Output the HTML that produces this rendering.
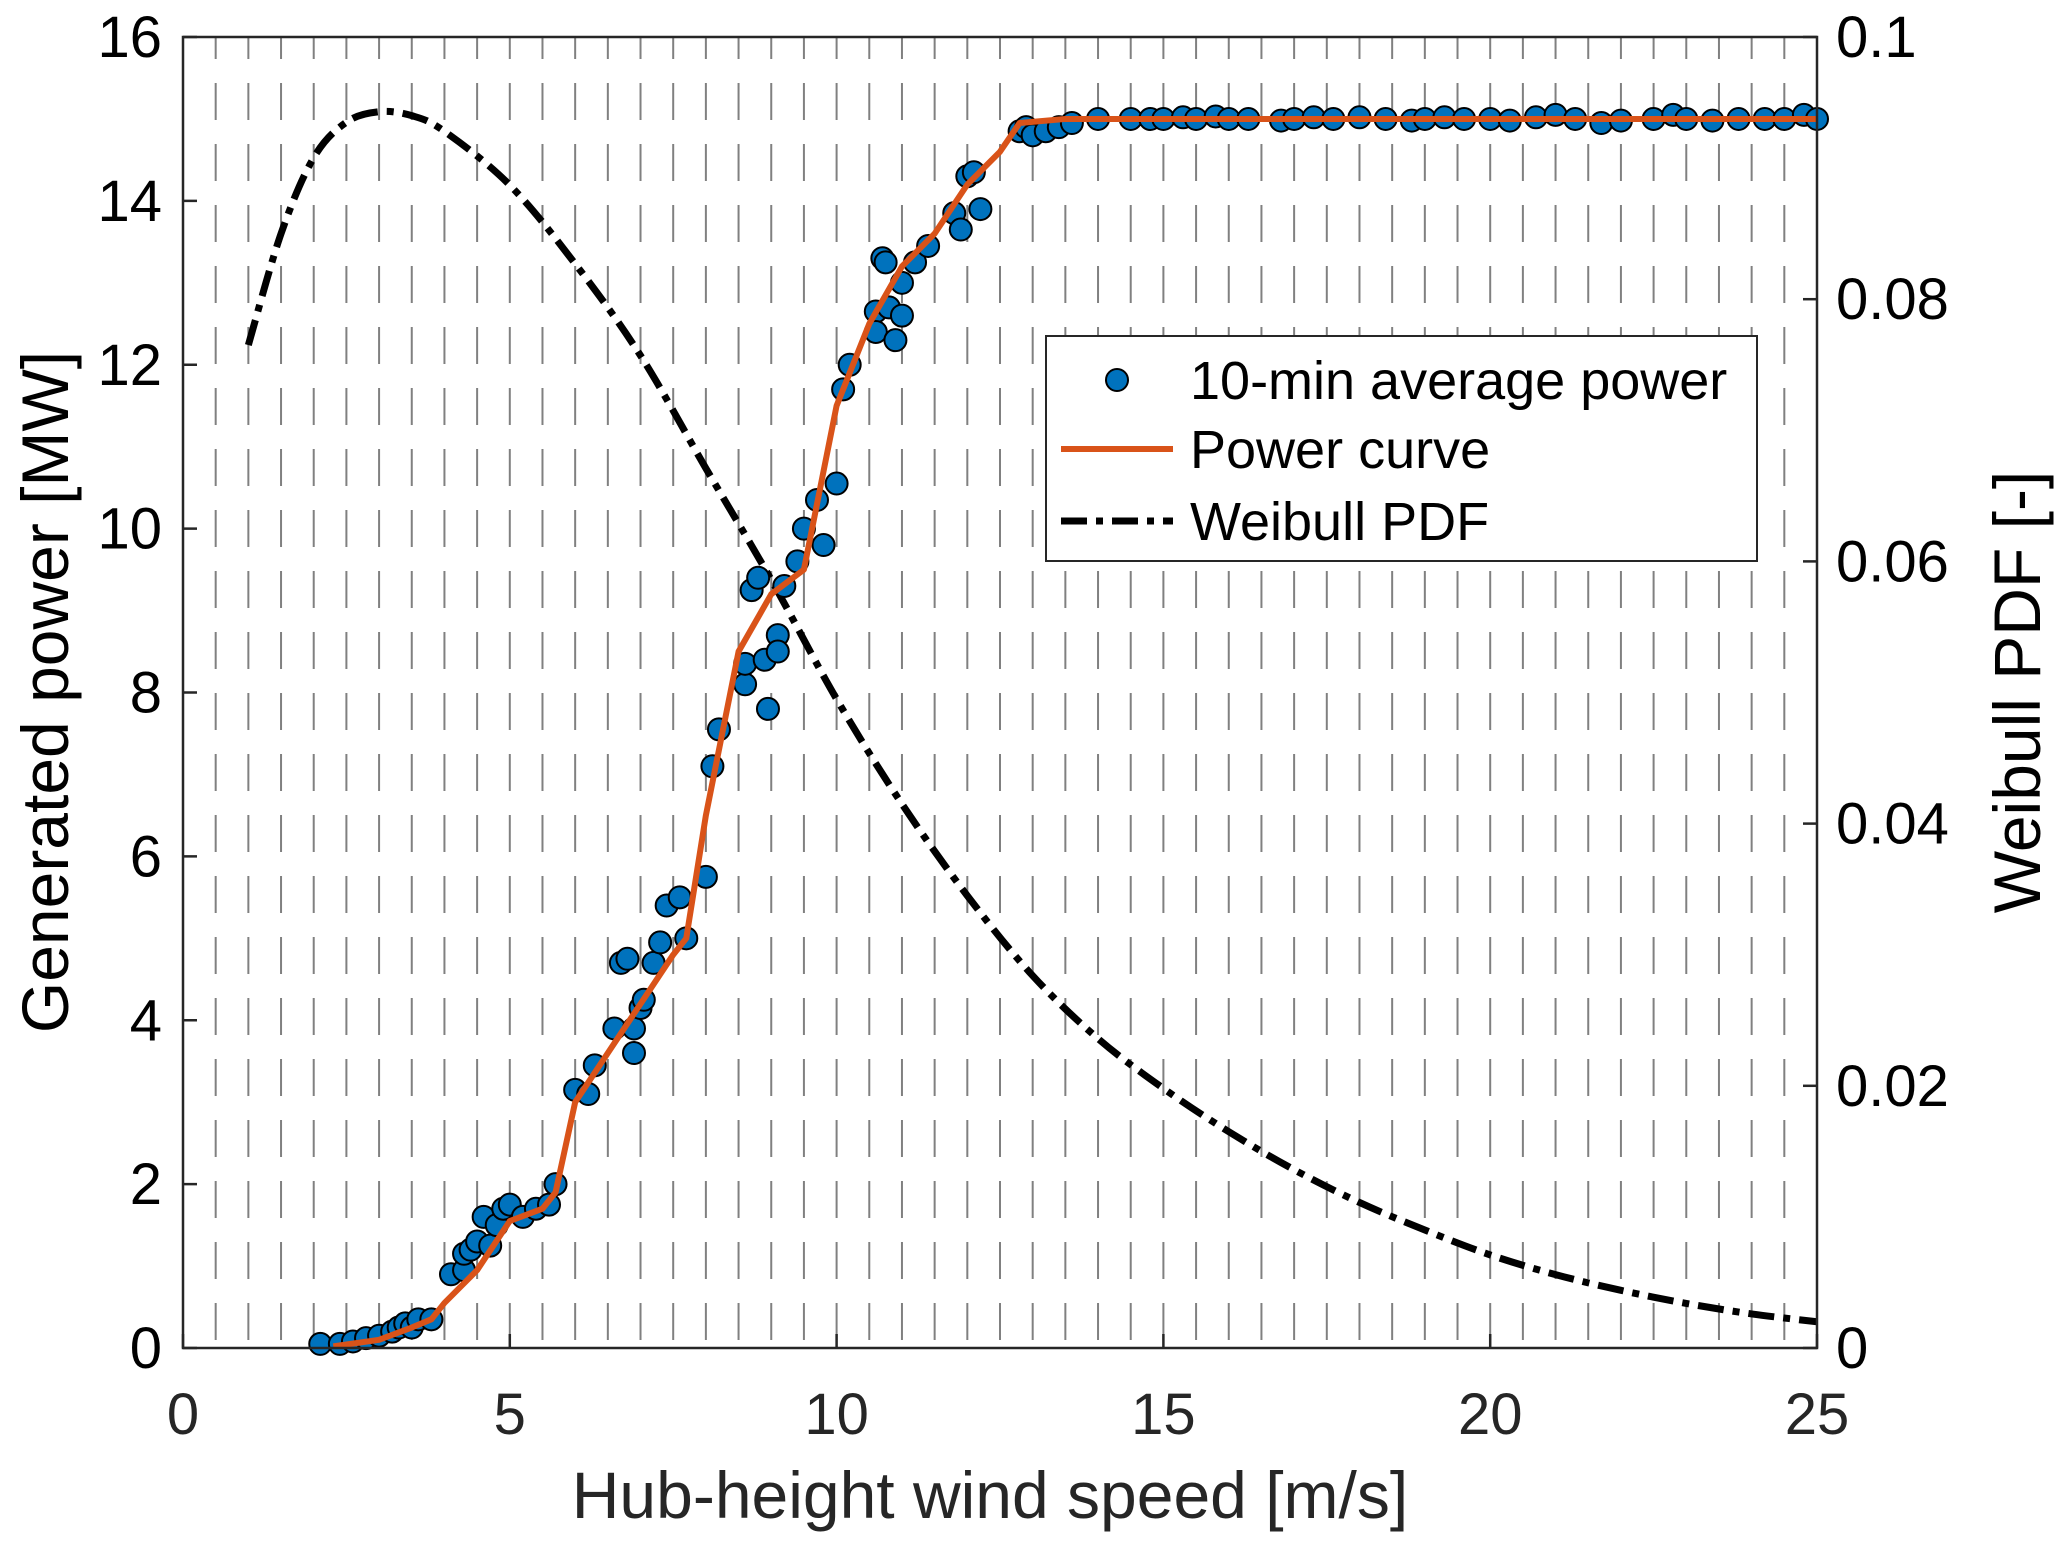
<!DOCTYPE html>
<html><head><meta charset="utf-8"><style>
body{margin:0;background:#fff}
svg{display:block;font-family:"Liberation Sans",Arial,sans-serif}
</style></head><body>
<svg id="chart" width="2067" height="1547" viewBox="0 0 2067 1547" xmlns="http://www.w3.org/2000/svg">
<rect width="2067" height="1547" fill="#fff"/>
<g id="grid"></g>
<g id="weib"></g>
<g id="pts"></g>
<g id="curve"></g>
<g id="axes"></g>
<g>
<rect x="1046" y="336" width="711" height="225" fill="#fff" stroke="#262626" stroke-width="2"/>
<circle cx="1117" cy="380" r="11" fill="#0072BD" stroke="#000" stroke-width="2"/>
<text x="1190" y="399" font-size="54" fill="#000">10-min average power</text>
<line x1="1061" y1="449" x2="1173" y2="449" stroke="#D95319" stroke-width="6"/>
<text x="1190" y="468" font-size="54" fill="#000">Power curve</text>
<line x1="1061" y1="521" x2="1173" y2="521" stroke="#000" stroke-width="7" stroke-dasharray="26 9 7 9"/>
<text x="1190" y="540" font-size="54" fill="#000">Weibull PDF</text>
</g>
<text x="990" y="1518" font-size="66" fill="#262626" text-anchor="middle">Hub-height wind speed [m/s]</text>
<text transform="translate(68,692) rotate(-90)" font-size="66" fill="#000" text-anchor="middle">Generated power [MW]</text>
<text transform="translate(2040,692) rotate(-90)" font-size="66" fill="#000" text-anchor="middle">Weibull PDF [-]</text>
</svg>
<script>
const xTicks=[0,5,10,15,20,25];
const yTicks=[0,2,4,6,8,10,12,14,16];
const y2Ticks=[0,0.02,0.04,0.06,0.08,0.1];
const y2Labels=["0","0.02","0.04","0.06","0.08","0.1"];
const weibX=[1,1.5,2,2.5,3,3.5,4,5,6,7,8,9,10,11,12,13,14,15,16,17,18,19,20,21,22,23,24,25];
const weibY=[0.0765,0.085,0.0908,0.0935,0.0943,0.094,0.0928,0.0887,0.0827,0.0757,0.0671,0.0586,0.0495,0.0415,0.0345,0.0284,0.0236,0.0198,0.0165,0.0136,0.0111,0.0090,0.0071,0.0056,0.0044,0.0034,0.0026,0.0020];
const curveX=[2.3,3,3.5,3.8,4,4.5,5,5.5,5.7,6,6.5,7,7.5,7.7,8,8.5,9,9.5,10,10.5,11,11.5,12,12.5,12.8,13.5,25];
const curveY=[0.02,0.1,0.25,0.35,0.55,0.95,1.55,1.7,1.9,3.0,3.6,4.2,4.8,5.0,6.5,8.5,9.2,9.5,11.5,12.5,13.2,13.6,14.2,14.6,14.95,15,15];
const ptX=[2.1,2.4,2.6,2.8,3.0,3.2,3.3,3.4,3.5,3.6,3.8,4.1,4.3,4.3,4.4,4.5,4.6,4.7,4.8,4.9,5.0,5.2,5.4,5.6,5.7,6.0,6.2,6.3,6.6,6.7,6.8,6.9,6.9,7.0,7.05,7.2,7.3,7.4,7.6,7.7,8.0,8.1,8.2,8.6,8.6,8.7,8.8,8.9,8.95,9.1,9.1,9.2,9.4,9.5,9.7,9.8,10.0,10.1,10.2,10.6,10.6,10.7,10.75,10.8,10.9,11.0,11.0,11.2,11.4,11.8,11.9,12.0,12.1,12.2,12.8,12.9,13.0,13.2,13.4,13.6,14.0,14.5,14.8,15.0,15.3,15.5,15.8,16,16.3,16.8,17,17.3,17.6,18,18.4,18.8,19,19.3,19.6,20,20.3,20.7,21,21.3,21.7,22,22.5,22.8,23,23.4,23.8,24.2,24.5,24.8,25];
const ptY=[0.05,0.05,0.08,0.12,0.15,0.2,0.25,0.3,0.25,0.35,0.35,0.9,0.95,1.15,1.2,1.3,1.6,1.25,1.5,1.7,1.75,1.6,1.7,1.75,2.0,3.15,3.1,3.45,3.9,4.7,4.75,3.9,3.6,4.15,4.25,4.7,4.95,5.4,5.5,5.0,5.75,7.1,7.55,8.1,8.35,9.25,9.4,8.4,7.8,8.7,8.5,9.3,9.6,10.0,10.35,9.8,10.55,11.7,12.0,12.65,12.4,13.3,13.25,12.7,12.3,12.6,13.0,13.25,13.45,13.85,13.65,14.3,14.35,13.9,14.85,14.9,14.8,14.85,14.9,14.95,15.0,15.0,15.0,15.0,15.02,15.0,15.03,15.0,15.0,14.98,15.0,15.02,15.0,15.02,15.0,14.98,15.0,15.02,15.0,15.0,14.98,15.02,15.05,15.0,14.95,14.98,15.0,15.05,15.0,14.98,15.0,15.0,15.0,15.05,15.0];
const L=183,R=1817,T=37,B=1348;
const sx=v=>L+(v/25)*(R-L), sy=v=>B-(v/16)*(B-T), sy2=v=>B-(v/0.1)*(B-T);
const NS="http://www.w3.org/2000/svg";
function mk(tag,parent,attrs){const e=document.createElementNS(NS,tag);for(const k in attrs)e.setAttribute(k,attrs[k]);parent.appendChild(e);return e;}
function smoothPath(P){
  let d='M'+P[0][0]+','+P[0][1];
  for(let i=0;i<P.length-1;i++){
    const p0=P[Math.max(0,i-1)],p1=P[i],p2=P[i+1],p3=P[Math.min(P.length-1,i+2)];
    const c1=[p1[0]+(p2[0]-p0[0])/6,p1[1]+(p2[1]-p0[1])/6];
    const c2=[p2[0]-(p3[0]-p1[0])/6,p2[1]-(p3[1]-p1[1])/6];
    d+=' C'+c1[0]+','+c1[1]+' '+c2[0]+','+c2[1]+' '+p2[0]+','+p2[1];
  }
  return d;
}
const grid=document.getElementById('grid');
for(let i=1;i<50;i++){
  const x=sx(i*0.5);
  const l=mk('line',grid,{x1:x,x2:x,y1:T,y2:B,stroke:'#808080','stroke-width':2,'stroke-dasharray':'37 24','stroke-dashoffset':15});
  
  
}
const wg=document.getElementById('weib');
const wl=mk('path',wg,{d:smoothPath(weibX.map((x,i)=>[sx(x),sy2(weibY[i])])),fill:'none',stroke:'#000','stroke-width':7,'stroke-dasharray':'26 9 7 9'});


const pg=document.getElementById('pts');
ptX.forEach((x,i)=>{
  const c=mk('circle',pg,{cx:sx(x),cy:sy(ptY[i]),r:11,fill:'#0072BD',stroke:'#000','stroke-width':2});
  
  
});
const cg=document.getElementById('curve');
const cl=mk('polyline',cg,{points:curveX.map((x,i)=>sx(x)+','+sy(curveY[i])).join(' '),fill:'none',stroke:'#D95319','stroke-width':6,'stroke-linejoin':'round'});


const ax=document.getElementById('axes');
const fr=mk('rect',ax,{x:L,y:T,width:R-L,height:B-T,fill:'none',stroke:'#262626','stroke-width':2.5});


xTicks.forEach(v=>{
  const x=sx(v);
  mk('line',ax,{x1:x,x2:x,y1:B,y2:B-14,stroke:'#262626','stroke-width':2.5});
  const t=mk('text',ax,{x:x,y:1434,'font-size':58,fill:'#262626','text-anchor':'middle'});
  t.textContent=v;
  
  
});
yTicks.forEach(v=>{
  const y=sy(v);
  mk('line',ax,{x1:L,x2:L+14,y1:y,y2:y,stroke:'#262626','stroke-width':2.5});
  const t=mk('text',ax,{x:162,y:y+20,'font-size':58,fill:'#000','text-anchor':'end'});
  t.textContent=v;
  
  
});
y2Ticks.forEach((v,i)=>{
  const y=sy2(v);
  mk('line',ax,{x1:R,x2:R-14,y1:y,y2:y,stroke:'#262626','stroke-width':2.5});
  const t=mk('text',ax,{x:1836,y:y+20,'font-size':58,fill:'#000','text-anchor':'start'});
  t.textContent=y2Labels[i];
  
  
});
</script>
</body></html>
